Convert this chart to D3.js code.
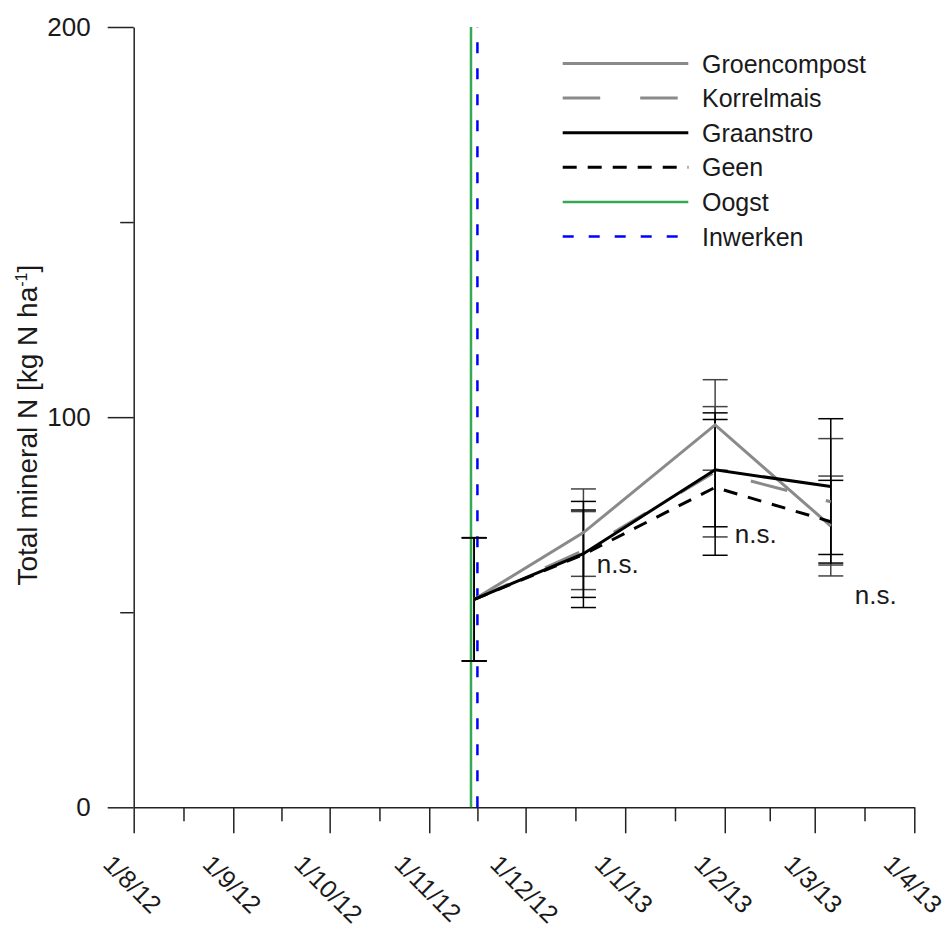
<!DOCTYPE html>
<html>
<head>
<meta charset="utf-8">
<script src="https://cdn.jsdelivr.net/npm/d3@7"></script>
<style>
  html, body { margin: 0; padding: 0; background: #fff; }
  svg { display: block; font-family: Arial, "Liberation Sans", Helvetica, sans-serif; }
</style>
</head>
<body>
<svg id="chart" width="947" height="931"></svg>
<script>
// Sampling dates (UTC) and treatment means with their error bars
const sampleDates = ["2012-11-15", "2012-12-19", "2013-01-29", "2013-03-06"];

const groencompost     = [53.3, 70.4, 98.0, 72.1];
const groencompostErr  = [15.8, 11.2, 11.6, 12.8];
const korrelmais       = [53.3, 65.8, 86.0, 78.3];
const korrelmaisErr    = [15.8, 10.0, 16.7, 16.2];
const graanstro        = [53.3, 65.0, 86.5, 82.2];
const graanstroErr     = [15.8, 11.2, 14.6, 17.4];
const geen             = [53.3, 64.8, 82.0, 73.2];
const geenErr          = [15.8, 13.6, 17.4, 10.6];

// Field events
const oogstDate    = "2012-11-14";
const inwerkenDate = "2012-11-16";

// Significance labels: date of the sampling, value at which the label sits
const nsDates  = ["2012-12-19", "2013-01-29", "2013-03-06"];
const nsValues = [60.0, 67.7, 52.1];
const nsText   = ["n.s.", "n.s.", "n.s."];

// Axis ticks
const xMajorTicks = ["2012-08-01", "2012-09-01", "2012-10-01", "2012-11-01", "2012-12-01",
                     "2013-01-01", "2013-02-01", "2013-03-01", "2013-04-01"];
const xTickLabels = ["1/8/12", "1/9/12", "1/10/12", "1/11/12", "1/12/12",
                     "1/1/13", "1/2/13", "1/3/13", "1/4/13"];
const yMajorTicks = [0, 100, 200];
const yMinorTicks = [50, 150];
const yLabel = "Total mineral N [kg N ha";

const seriesNames = ["Groencompost", "Korrelmais", "Graanstro", "Geen"];
const legendNames = ["Groencompost", "Korrelmais", "Graanstro", "Geen", "Oogst", "Inwerken"];

// ---- styling ----
const styles = {
  Groencompost: { color: "#8a8a8a", width: 3,   dash: null },
  Korrelmais:   { color: "#8a8a8a", width: 3,   dash: "37.5,40" },
  Graanstro:    { color: "#000000", width: 3,   dash: null },
  Geen:         { color: "#000000", width: 3,   dash: "14,11" },
  Oogst:        { color: "#35a853", width: 2.5, dash: null },
  Inwerken:     { color: "#0000ff", width: 2.5, dash: "11,15" }
};
const axisColor = "#222";
const textColor = "#1a1a1a";

const parse = d3.utcParse("%Y-%m-%d");
const dates = sampleDates.map(parse);
const seriesData = {
  Groencompost: { vals: groencompost, err: groencompostErr },
  Korrelmais:   { vals: korrelmais,   err: korrelmaisErr },
  Graanstro:    { vals: graanstro,    err: graanstroErr },
  Geen:         { vals: geen,         err: geenErr }
};

const svg = d3.select("#chart");

const x = d3.scaleUtc()
  .domain([parse(xMajorTicks[0]), parse(xMajorTicks[xMajorTicks.length - 1])])
  .range([133.7, 914.3]);
const y = d3.scaleLinear().domain([0, 200]).range([807.3, 27]);

// ---- axes ----
const xMajor = xMajorTicks.map(parse);
const xMinor = d3.pairs(xMajor).map(([a, b]) => new Date((+a + +b) / 2));

const gx = svg.append("g").attr("transform", `translate(0,${y(0)})`);
gx.call(d3.axisBottom(x).tickValues(xMajor).tickSize(26).tickSizeOuter(0).tickFormat(() => ""));
gx.append("g").call(d3.axisBottom(x).tickValues(xMinor).tickSize(14).tickSizeOuter(0).tickFormat(() => ""))
  .select(".domain").remove();
gx.selectAll(".domain, .tick line").attr("stroke", axisColor).attr("stroke-width", 1.5);

// rotated month labels, bounding box centred under each tick
const labelTop = 853;
const labelSize = 25;
const xl = svg.append("g").attr("font-size", labelSize).attr("fill", textColor);
xMajor.forEach((d, i) => {
  const t = xl.append("text")
    .attr("text-anchor", "middle")
    .attr("dominant-baseline", "central")
    .text(xTickLabels[i]);
  const L = t.node().getComputedTextLength();
  const boxH = (L + 0.716 * labelSize) * Math.SQRT1_2;
  t.attr("transform", `translate(${x(d) - 1},${labelTop + boxH / 2}) rotate(45)`);
});

const gy = svg.append("g").attr("transform", `translate(${x.range()[0]},0)`);
gy.call(d3.axisLeft(y).tickValues(yMajorTicks).tickSize(26).tickPadding(17).tickSizeOuter(0));
gy.append("g").call(d3.axisLeft(y).tickValues(yMinorTicks).tickSize(13.5).tickSizeOuter(0).tickFormat(() => ""))
  .select(".domain").remove();
gy.selectAll(".domain, .tick line").attr("stroke", axisColor).attr("stroke-width", 1.5);
gy.selectAll(".tick text").attr("font-size", 26).attr("fill", textColor)
  .attr("font-family", "Arial, 'Liberation Sans', sans-serif");

// y-axis title with superscript unit
const yt = svg.append("text")
  .attr("transform", `translate(37,${(y(0) + y(200)) / 2 + 8}) rotate(-90)`)
  .attr("text-anchor", "middle")
  .attr("font-size", 28)
  .attr("fill", textColor);
yt.append("tspan").text(yLabel);
yt.append("tspan").attr("font-size", 16).attr("dy", -10).text("-1");
yt.append("tspan").attr("dy", 10).text("]");

// ---- event lines ----
[["Oogst", oogstDate], ["Inwerken", inwerkenDate]].forEach(([name, ds]) => {
  const s = styles[name];
  svg.append("line")
    .attr("x1", x(parse(ds))).attr("x2", x(parse(ds)))
    .attr("y1", y(0)).attr("y2", y(200))
    .attr("stroke", s.color).attr("stroke-width", s.width)
    .attr("stroke-dasharray", s.dash);
});

// ---- error bars ----
const capHalf = 12.5;
const eb = svg.append("g");
seriesNames.forEach(name => {
  const { vals, err } = seriesData[name];
  const col = name === "Groencompost" || name === "Korrelmais" ? "#444" : "#000";
  dates.forEach((d, i) => {
    const cx = x(d), hi = y(vals[i] + err[i]), lo = y(vals[i] - err[i]);
    eb.append("line").attr("x1", cx).attr("x2", cx).attr("y1", hi).attr("y2", lo)
      .attr("stroke", col).attr("stroke-width", 1.5);
    [hi, lo].forEach(yy => eb.append("line")
      .attr("x1", cx - capHalf).attr("x2", cx + capHalf).attr("y1", yy).attr("y2", yy)
      .attr("stroke", col).attr("stroke-width", 1.5));
  });
});

// ---- series lines ----
const line = d3.line().x(d => x(d[0])).y(d => y(d[1]));
["Groencompost", "Korrelmais", "Geen", "Graanstro"].forEach(name => {
  const s = styles[name];
  svg.append("path")
    .datum(dates.map((d, i) => [d, seriesData[name].vals[i]]))
    .attr("d", line)
    .attr("fill", "none")
    .attr("stroke", s.color)
    .attr("stroke-width", s.width)
    .attr("stroke-dasharray", s.dash)
    .attr("stroke-linejoin", "miter");
});

// ---- significance labels ----
const nsOffsets = [13.4, 19.7, 24];
svg.append("g").selectAll("text").data(nsDates).join("text")
  .attr("x", (d, i) => x(parse(d)) + nsOffsets[i])
  .attr("y", (d, i) => y(nsValues[i]))
  .attr("font-size", 26)
  .attr("fill", textColor)
  .text((d, i) => nsText[i]);

// ---- legend ----
const lg = svg.append("g");
legendNames.forEach((name, i) => {
  const s = styles[name];
  const yy = 63.5 + i * 34.6;
  lg.append("line").attr("x1", 562.7).attr("x2", 688.3).attr("y1", yy).attr("y2", yy)
    .attr("stroke", s.color).attr("stroke-width", s.width).attr("stroke-dasharray", s.dash);
  lg.append("text").attr("x", 702).attr("y", yy).attr("dominant-baseline", "central")
    .attr("font-size", 25).attr("fill", textColor).text(name);
});
</script>
</body>
</html>
